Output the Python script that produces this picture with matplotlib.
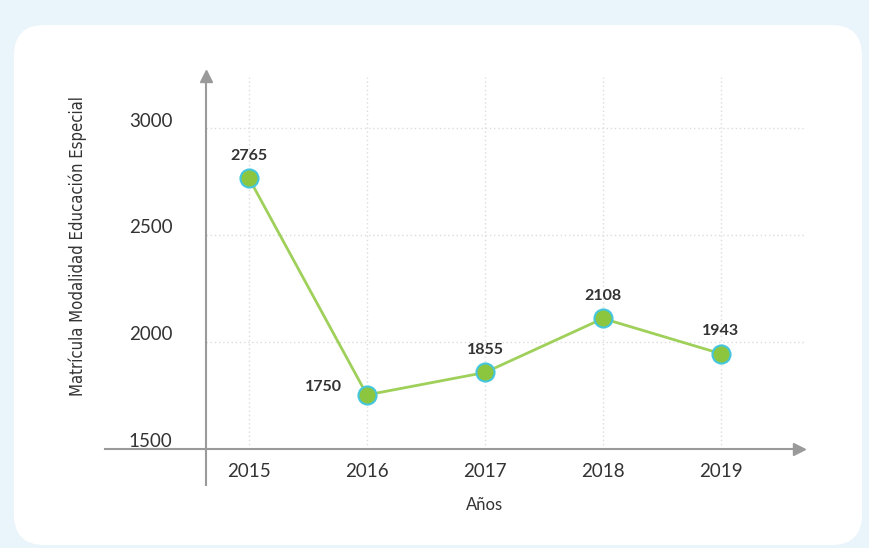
import matplotlib
matplotlib.use("Agg")
import matplotlib.pyplot as plt
import matplotlib.transforms as mtransforms
from matplotlib.patches import FancyBboxPatch

anios = [2015, 2016, 2017, 2018, 2019]
matricula = [2765, 1750, 1855, 2108, 1943]
ytics = [1500, 2000, 2500, 3000]

W, H = 869, 548
fig = plt.figure(figsize=(W / 100, H / 100), dpi=100)
fig.patch.set_facecolor("#eaf4fb")

# tarjeta blanca redondeada
card = FancyBboxPatch((14 / W, 3 / H), 848 / W, 520 / H,
                      boxstyle="round,pad=0,rounding_size=0.035",
                      transform=fig.transFigure, facecolor="white",
                      edgecolor="none", zorder=-5, mutation_aspect=W / H)
fig.patches.append(card)

ax = fig.add_axes([105 / W, (H - 485) / H, 700 / W, 415 / H])
ax.set_zorder(2)
ax.set_facecolor("none")
ax.set_xlim(2013.78, 2019.712)
ax.set_ylim(1328, 3272)

x0 = 2014.636
y0 = 1497
gris = "#9a9a9a"

# rejilla punteada
ax.vlines(anios, y0, 3240, colors="#dcdcdc", linestyles=(0, (1, 2)), lw=1, zorder=1)
ax.hlines(ytics[1:], x0, 2019.712, colors="#dcdcdc", linestyles=(0, (1, 2)), lw=1, zorder=1)

# ejes
for s in ["top", "right"]:
    ax.spines[s].set_visible(False)
ax.spines["left"].set_position(("data", x0))
ax.spines["bottom"].set_position(("data", y0))
ax.spines["left"].set_color(gris)
ax.spines["bottom"].set_color(gris)
ax.spines["left"].set_linewidth(1.5)
ax.spines["bottom"].set_linewidth(1.5)
ax.spines["left"].set_bounds(1328, 3230)
ax.spines["bottom"].set_bounds(2013.78, 2019.66)
ax.plot([x0], [3245], marker="^", color=gris, ms=8, clip_on=False)
ax.plot([2019.66], [y0], marker=">", color=gris, ms=8, clip_on=False)

ax.plot(anios, matricula, color="#9fd05a", lw=2, zorder=3,
        marker="o", ms=13, mfc="#8cc63f", mec="#45c6dc", mew=1.5)

for a, v in zip(anios, matricula):
    if a == 2016:
        ax.annotate(str(v), (a, v), xytext=(-18, 6), textcoords="offset points",
                    ha="right", va="center", fontsize=11.5, fontweight="bold", color="#333333", family="Lato")
    else:
        ax.annotate(str(v), (a, v), xytext=(0, 16), textcoords="offset points",
                    ha="center", va="center", fontsize=11.5, fontweight="bold", color="#333333", family="Lato")

ax.set_xticks(anios)
ax.set_xticklabels([str(a) for a in anios], fontsize=13.5, color="#333333", family="Lato")
ax.set_yticks(ytics)
ax.set_yticklabels([str(t) for t in ytics], fontsize=13.5, color="#333333", family="Lato")
ax.tick_params(axis="both", length=0)
ax.tick_params(axis="x", pad=10)
ax.tick_params(axis="y", pad=24)
off = mtransforms.ScaledTranslation(0, 6 / 72, fig.dpi_scale_trans)
for lbl in ax.get_yticklabels():
    lbl.set_transform(lbl.get_transform() + off)

fig.text(485 / W, 1 - 505 / H, "Años", ha="center", va="center", fontsize=12,
         color="#333333", family="Lato")
fig.text(78 / W, 1 - 246 / H, "Matrícula Modalidad Educación Especial", rotation=90,
         ha="center", va="center", fontsize=12, color="#333333",
         family="DejaVu Sans", stretch="condensed")

fig.savefig("out.png", dpi=100, facecolor=fig.get_facecolor())
